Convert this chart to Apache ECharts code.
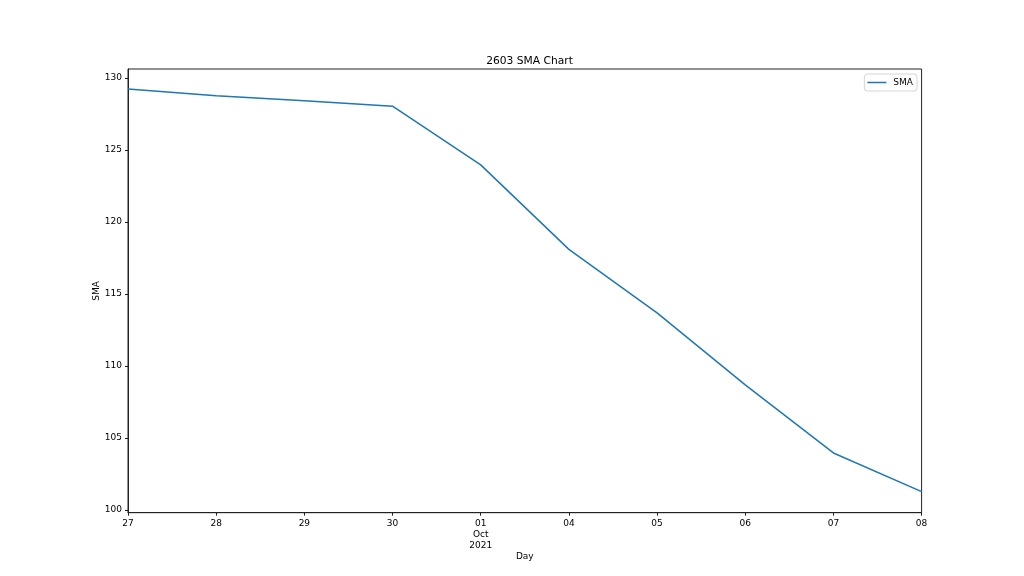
<!DOCTYPE html>
<html>
<head>
<meta charset="utf-8">
<script src="https://cdn.jsdelivr.net/npm/echarts@6/dist/echarts.min.js"></script>
<style>
html,body{margin:0;padding:0;background:#fff;}
#chart{width:1024px;height:576px;}
</style>
</head>
<body>
<div id="chart"></div>
<script>
const categories = ['27','28','29','30','01\nOct\n2021','04','05','06','07','08'];
const smaValues = [129.24, 128.77, 128.42, 128.05, 123.97, 118.10, 113.69, 108.69, 103.96, 101.27];
const yTicks = [100, 105, 110, 115, 120, 125, 130];

const chart = echarts.init(document.getElementById('chart'));
const font = 'DejaVu Sans';
chart.setOption({
  animation: false,
  backgroundColor: '#fff',
  textStyle: { fontFamily: font },
  title: {
    text: '2603 SMA Chart',
    left: 524.5, textAlign: 'center', top: 51,
    textStyle: { fontFamily: font, fontSize: 10.7, fontWeight: 'normal', color: '#000' }
  },
  legend: {
    data: [{ name: 'SMA', icon: 'rect' }],
    right: 107, top: 74,
    orient: 'vertical',
    padding: [4, 4, 4, 3],
    itemWidth: 19, itemHeight: 1.5,
    borderColor: '#d5d5d5', borderWidth: 1, borderRadius: 3,
    textStyle: { fontFamily: font, fontSize: 9, color: '#000', padding: [0, 0, 0, 2] }
  },
  grid: {
    left: 128, right: 102.4, top: 69, bottom: 63.3,
    show: true, borderColor: '#222', borderWidth: 1, backgroundColor: 'transparent'
  },
  xAxis: {
    type: 'category',
    data: categories,
    boundaryGap: false,
    name: 'Day', nameLocation: 'middle', nameGap: 39, nameMoveOverlap: false,
    nameTextStyle: { fontFamily: font, fontSize: 9, color: '#000' },
    axisLine: { lineStyle: { color: '#222', width: 1 } },
    axisTick: { show: true, length: 3, alignWithLabel: true, lineStyle: { color: '#222' } },
    axisLabel: { fontFamily: font, fontSize: 9, color: '#000', margin: 5, lineHeight: 11, interval: 0 },
    splitLine: { show: false }
  },
  yAxis: {
    type: 'value',
    min: 99.81, max: 130.63,
    name: 'SMA', nameLocation: 'middle', nameGap: 27, nameMoveOverlap: false,
    nameTextStyle: { fontFamily: font, fontSize: 9, color: '#000' },
    axisLine: { show: true, lineStyle: { color: '#222', width: 1 } },
    axisTick: { show: true, length: 3, lineStyle: { color: '#222' }, customValues: yTicks },
    axisLabel: { fontFamily: font, fontSize: 9, color: '#000', margin: 6, customValues: yTicks },
    splitLine: { show: false }
  },
  series: [{
    name: 'SMA',
    type: 'line',
    data: smaValues,
    symbol: 'none',
    lineStyle: { color: '#1f77b4', width: 1.5 },
    itemStyle: { color: '#1f77b4' }
  }]
});
</script>
</body>
</html>
